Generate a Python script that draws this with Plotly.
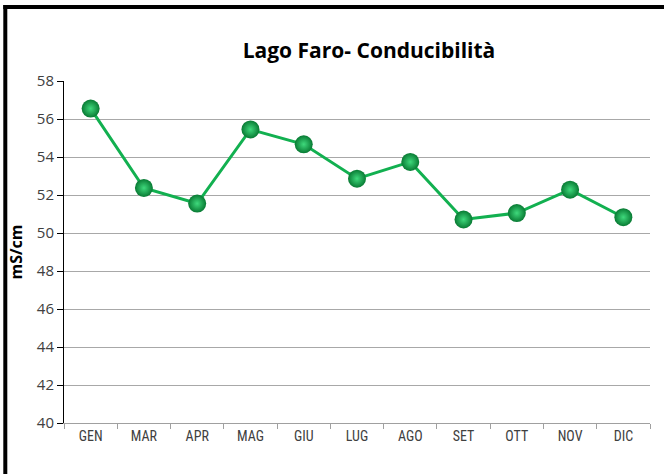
import plotly.graph_objects as go

months = ["GEN", "MAR", "APR", "MAG", "GIU", "LUG", "AGO", "SET", "OTT", "NOV", "DIC"]
conducibilita = [56.55, 52.37, 51.55, 55.45, 54.67, 52.86, 53.74, 50.71, 51.05, 52.28, 50.83]
y_ticks = [40, 42, 44, 46, 48, 50, 52, 54, 56, 58]

fig = go.Figure()
fig.add_trace(go.Scatter(
    x=months, y=conducibilita, mode="lines+markers",
    line=dict(color="#12b050", width=3),
    marker=dict(size=18, color="#087a33",
                gradient=dict(type="radial", color="#3fd97c"),
                line=dict(width=0)),
    showlegend=False,
))

W, H = 664, 474
L, R, T, B = 64, 14, 81, 51
pw, ph = W - L - R, H - T - B

def px(x):
    return (x - L) / pw

def py(y):
    return (H - B - y) / ph

fig.update_layout(
    width=W, height=H,
    margin=dict(l=L, r=R, t=T, b=B, autoexpand=False),
    paper_bgcolor="white", plot_bgcolor="white",
    title=dict(text="<b>Lago Faro- Conducibilità</b>", x=369 / W, xanchor="center",
               y=1 - 51 / H, yanchor="middle",
               font=dict(family="Open Sans, Lato, sans-serif", size=21, color="black")),
    xaxis=dict(
        type="category", tickson="boundaries", ticks="outside", ticklen=5,
        tickcolor="#a0a0a0", showline=True, linecolor="#a0a0a0", linewidth=1,
        showgrid=False, range=[-0.5, len(months) - 0.5], automargin=False,
        tickfont=dict(family="Liberation Sans Narrow, Roboto Condensed, Liberation Sans, sans-serif",
                      size=14, color="#404040"),
    ),
    yaxis=dict(
        range=[40, 58], tickvals=y_ticks, ticks="outside", ticklen=6,
        tickcolor="black", showline=True, linecolor="black", linewidth=1,
        showgrid=True, gridcolor="#a8a8a8", gridwidth=1, zeroline=False, automargin=False,
        tickfont=dict(family="Open Sans, sans-serif", size=15, color="#404040"),
        title=dict(text="<b>mS/cm</b>", standoff=10,
                   font=dict(family="Open Sans, sans-serif", size=16, color="black")),
    ),
    shapes=[
        dict(type="line", xref="paper", yref="paper",
             x0=px(3.3), x1=px(W + 10), y0=py(7), y1=py(7),
             line=dict(color="black", width=4), layer="above"),
        dict(type="line", xref="paper", yref="paper",
             x0=px(5.3), x1=px(5.3), y0=py(5), y1=py(H + 10),
             line=dict(color="black", width=4), layer="above"),
    ],
)

fig.write_html("out.html", config={"displayModeBar": False},
               post_script="document.body.style.margin='0';")
